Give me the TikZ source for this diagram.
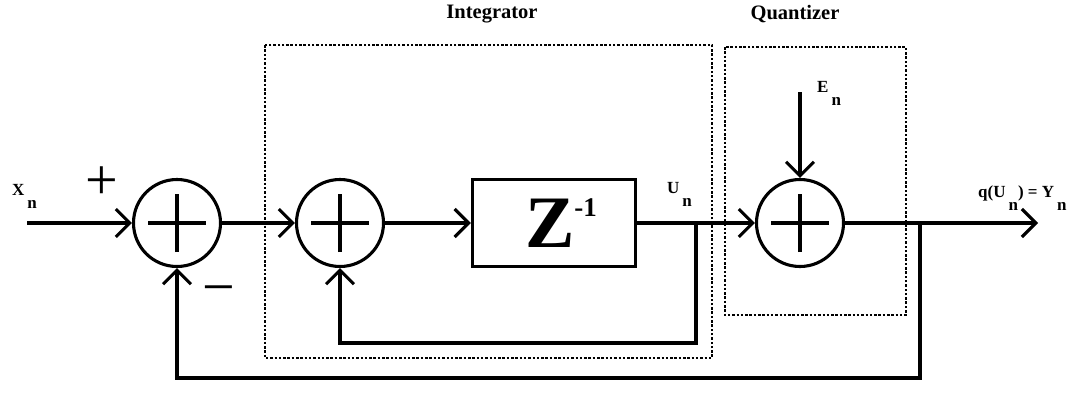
\documentclass[tikz,border=0pt]{standalone}
\usepackage{fontspec}
\setmainfont{Liberation Serif}
\usetikzlibrary{arrows.meta,positioning,calc}
\newcommand{\subn}{\kern3pt\raisebox{-13pt}{n}}

\tikzset{
  line/.style={line width=3.1pt},
  sig/.style={line, -{Straight Barb[length=14pt,width=28pt]}},
  sum/.style={circle, draw, line width=3.1pt, minimum size=87pt, inner sep=0pt,
    path picture={
      \draw[line width=3.1pt] ($(path picture bounding box.center)+(-29pt,0pt)$) -- ++(58pt,0pt)
        ($(path picture bounding box.center)+(0pt,-29pt)$) -- ++(0pt,58pt);}},
  delaybox/.style={rectangle, draw, line width=3.3pt, minimum width=163pt, minimum height=87pt, inner sep=0pt},
  dotbox/.style={line width=2.7pt, dash pattern=on 2.5pt off 1.8pt},
  lbl/.style={font=\fontsize{17}{17}\selectfont\bfseries, inner sep=0pt, anchor=base west},
  title/.style={font=\fontsize{20.5}{20.5}\selectfont\bfseries, inner sep=0pt},
  sgn/.style={font=\fontsize{58}{58}\selectfont, inner sep=0pt}
}

\begin{document}
\begin{tikzpicture}[x=1pt,y=-1pt]
    \def\yS{223}
    \useasboundingbox (0,0) rectangle (1082,407);
    % boxes
    \draw[dotbox] (265,45) rectangle (712,358);
    \draw[dotbox] (725,47) rectangle (906,315);
    \node[title] (tInt) at (492,14) {Integrator};
    \node[title] (tQnt) at (795,14) {Quantizer};
    % blocks
    \node[sum] (sumA) at (177,\yS) {};
    \node[sum] (sumB) at (340,\yS) {};
    \node[delaybox] (delay) at (554,\yS) {\kern14pt\fontsize{74}{74}\selectfont\bfseries Z\raisebox{31pt}{\fontsize{27}{27}\selectfont -1}};
    \node[sum] (sumC) at (800,\yS) {};
    % points
    \coordinate (in) at (27,\yS);
    \coordinate (tapU) at (696,\yS);
    \coordinate (fbI) at (696,343);
    \coordinate (en) at (800,92);
    \coordinate (tapY) at (920,\yS);
    \coordinate (fbO) at (920,378);
    \coordinate (out) at (1038,\yS);
    % signals
    \draw[sig] (in) -- (sumA);
    \draw[sig] (sumA) -- (sumB);
    \draw[sig] (sumB) -- (delay);
    \draw[sig] (delay) -- (sumC);
    \draw[sig] (tapU) -- (fbI) -| (sumB);
    \draw[sig] (en) -- (sumC);
    \draw[sig] (sumC) -- (out);
    \draw[sig] (tapY) -- (fbO) -| (sumA);
    % labels
    \node[lbl] (xn) at (12,195) {X\subn};
    \node[lbl] (un) at (667,193) {U\subn};
    \node[lbl] (enl) at (817,92) {E\subn};
    \node[lbl] (yn) at (978,197) {q(U\subn) = Y\subn};
    \node[sgn] (plus) at (102,183) {+};
    \node[sgn] (minus) at (219,296) {−};
\end{tikzpicture}
\end{document}
